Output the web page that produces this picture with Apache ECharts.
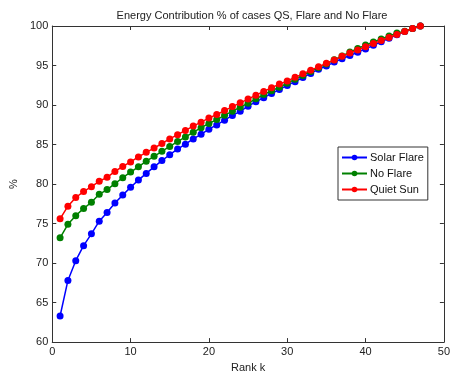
<!DOCTYPE html>
<html>
<head>
<meta charset="utf-8">
<script src="https://cdn.jsdelivr.net/npm/echarts@6/dist/echarts.min.js"></script>
<style>html,body{margin:0;padding:0;background:#fff}#c{width:453px;height:378px}</style>
</head>
<body>
<div id="c"></div>
<script>
const ranks = Array.from({length: 47}, (_, i) => i + 1);
const solarFlare = [63.3,67.8,70.3,72.2,73.7,75.3,76.4,77.6,78.6,79.6,80.5,81.35,82.18,82.97,83.71,84.42,85.05,85.71,86.29,86.94,87.48,88.08,88.68,89.2,89.85,90.4,90.93,91.46,91.96,92.48,92.96,93.48,94.0,94.52,94.93,95.43,95.85,96.26,96.68,97.1,97.55,98.0,98.45,98.9,99.29,99.67,100];
const noFlare = [73.2,74.9,76.0,76.9,77.7,78.7,79.3,80.05,80.8,81.52,82.18,82.89,83.51,84.14,84.76,85.38,85.96,86.54,87.13,87.66,88.16,88.7,89.22,89.72,90.24,90.78,91.32,91.81,92.25,92.75,93.25,93.75,94.25,94.72,95.2,95.72,96.2,96.7,97.15,97.58,97.98,98.35,98.75,99.1,99.35,99.68,100];
const quietSun = [75.6,77.2,78.3,79.05,79.67,80.35,80.85,81.6,82.22,82.8,83.43,84.01,84.55,85.13,85.71,86.25,86.79,87.33,87.83,88.35,88.8,89.3,89.8,90.28,90.75,91.25,91.72,92.18,92.65,93.04,93.5,93.95,94.41,94.83,95.28,95.7,96.16,96.58,96.97,97.38,97.78,98.15,98.55,98.92,99.29,99.67,100];
const seriesNames = ['Solar Flare','No Flare','Quiet Sun'];
const seriesColors = ['#0000ff','#008000','#ff0000'];
const seriesData = [solarFlare, noFlare, quietSun];

const font = 'Liberation Sans, Helvetica, Arial, sans-serif';
const axisCol = '#333';
const chart = echarts.init(document.getElementById('c'), null, {renderer: 'canvas'});
const tickCommon = {show: true, inside: true, length: 4, lineStyle: {color: axisCol, width: 1}};
chart.setOption({
  animation: false,
  backgroundColor: '#fff',
  title: {
    text: 'Energy Contribution % of cases QS, Flare and No Flare',
    left: 247, top: 5, textAlign: 'center',
    textStyle: {fontFamily: font, fontSize: 11, fontWeight: 'normal', color: '#222'}
  },
  grid: {left: 49, right: 8, top: 26, bottom: 31, containLabel: false},
  legend: {
    orient: 'vertical', left: 338, top: 147,
    data: seriesNames,
    backgroundColor: '#fff', borderColor: '#333', borderWidth: 1,
    padding: [4, 4, 4, 3], itemGap: 3, itemWidth: 25, itemHeight: 7,
    textStyle: {fontFamily: font, fontSize: 11, color: '#111', padding: [0,0,0,-2], lineHeight: 13}
  },
  xAxis: [{
    type: 'value', min: 0, max: 50, interval: 10, position: 'bottom',
    name: 'Rank k', nameLocation: 'middle', nameGap: 19,
    nameTextStyle: {fontFamily: font, fontSize: 11, color: '#222'},
    axisLine: {show: true, onZero: false, lineStyle: {color: axisCol}},
    axisTick: tickCommon,
    axisLabel: {fontFamily: font, fontSize: 11, color: '#222', margin: 4},
    splitLine: {show: false}
  }, {
    type: 'value', min: 0, max: 50, interval: 10, position: 'top',
    axisLine: {show: true, onZero: false, lineStyle: {color: axisCol}},
    axisTick: tickCommon, axisLabel: {show: false}, splitLine: {show: false}
  }],
  yAxis: [{
    type: 'value', min: 60, max: 100, interval: 5, position: 'left',
    name: '%', nameLocation: 'middle', nameGap: 33, nameRotate: 90,
    nameTextStyle: {fontFamily: font, fontSize: 11, color: '#222'},
    axisLine: {show: true, onZero: false, lineStyle: {color: axisCol}},
    axisTick: tickCommon,
    axisLabel: {fontFamily: font, fontSize: 11, color: '#222', margin: 4},
    splitLine: {show: false}
  }, {
    type: 'value', min: 60, max: 100, interval: 5, position: 'right',
    axisLine: {show: true, onZero: false, lineStyle: {color: axisCol}},
    axisTick: tickCommon, axisLabel: {show: false}, splitLine: {show: false}
  }],
  series: seriesNames.map((n, i) => ({
    name: n, type: 'line', xAxisIndex: 0, yAxisIndex: 0,
    data: ranks.map((r, j) => [r, seriesData[i][j]]),
    symbol: 'circle', symbolSize: 7, showSymbol: true,
    lineStyle: {color: seriesColors[i], width: 1.5},
    itemStyle: {color: seriesColors[i]},
    z: 2 + i
  }))
});
</script>
</body>
</html>
